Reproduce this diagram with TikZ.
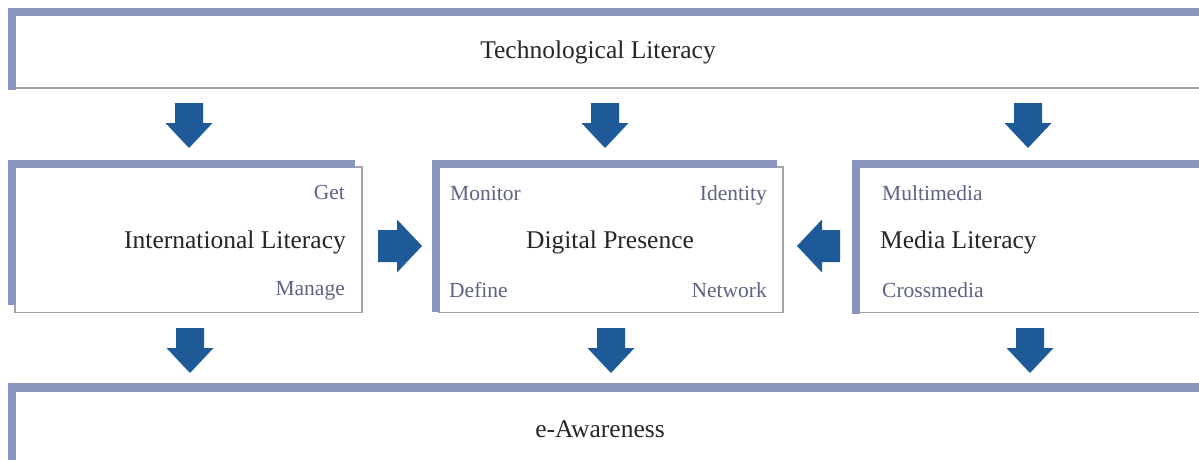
\documentclass[tikz,border=0pt]{standalone}
\usepackage{fontspec}
\setmainfont{Liberation Serif}
\definecolor{bandc}{HTML}{8A95BD}
\definecolor{thinc}{HTML}{A2A3AB}
\definecolor{arrowc}{HTML}{1E5A97}
\definecolor{maintxt}{HTML}{262626}
\definecolor{smalltxt}{HTML}{5C6384}
\tikzset{
  thinline/.style={draw=thinc, line width=1.6pt},
  band/.style={fill=bandc},
  maintext/.style={inner sep=0pt, text=maintxt, font=\fontsize{25.5}{30}\selectfont},
  smalltext/.style={inner sep=0pt, text=smalltxt, font=\fontsize{21.5}{26}\selectfont},
  downarr/.pic={\fill[arrowc] (-14,0) -- (14,0) -- (14,20) -- (23.5,20) -- (0,45) -- (-23.5,20) -- (-14,20) -- cycle;},
  rightarr/.pic={\fill[arrowc] (0,-16) -- (19,-16) -- (19,-26.5) -- (44,0) -- (19,26.5) -- (19,16) -- (0,16) -- cycle;},
  leftarr/.pic={\fill[arrowc] (0,-16) -- (-18,-16) -- (-18,-26.5) -- (-43,0) -- (-18,26.5) -- (-18,16) -- (0,16) -- cycle;}
}
\begin{document}
\begin{tikzpicture}[x=1pt,y=-1pt]
\useasboundingbox (0,0) rectangle (1199,459);
\clip (0,0) rectangle (1199,459);
\fill[white] (0,0) rectangle (1199,459);
% top box
\draw[thinline] (15,15) -- (1210,15);
\draw[thinline] (15,88) -- (1210,88);
\fill[band] (8,8) rectangle (1210,15.5);
\fill[band] (8,8) rectangle (15.5,90);
% left box
\draw[thinline] (15,167) rectangle (362,312.5);
\fill[band] (8,160) rectangle (355,167.5);
\fill[band] (8,160) rectangle (15.5,305);
% middle box
\draw[thinline] (439,167) rectangle (783,312.5);
\fill[band] (432,160) rectangle (777,167.5);
\fill[band] (432,160) rectangle (439.5,312);
% right box
\draw[thinline] (859,167) rectangle (1210,312.5);
\fill[band] (852,160) rectangle (1210,167.5);
\fill[band] (852,160) rectangle (859.5,314);
% bottom box
\fill[band] (8,383) rectangle (1210,392);
\fill[band] (8,383) rectangle (15.5,470);
% arrows
\pic at (189,103) {downarr};
\pic at (605,103) {downarr};
\pic at (1028,103) {downarr};
\pic at (190,328) {downarr};
\pic at (611,328) {downarr};
\pic at (1030,328) {downarr};
\pic at (378,246) {rightarr};
\pic at (840,246) {leftarr};
% texts
\node[maintext, anchor=base] (tech) at (598,58) {Technological Literacy};
\node[maintext, anchor=base] (eaw) at (600,437) {e-Awareness};
\node[maintext, anchor=base east] (intl) at (346,248) {International Literacy};
\node[maintext, anchor=base] (dig) at (610,248) {Digital Presence};
\node[maintext, anchor=base west] (media) at (880,248) {Media Literacy};
\node[smalltext, anchor=base east] (get) at (345,199) {Get};
\node[smalltext, anchor=base east] (manage) at (345,295) {Manage};
\node[smalltext, anchor=base west] (monitor) at (450,200) {Monitor};
\node[smalltext, anchor=base east] (identity) at (767,200) {Identity};
\node[smalltext, anchor=base west] (define) at (449,297) {Define};
\node[smalltext, anchor=base east] (network) at (767,297) {Network};
\node[smalltext, anchor=base west] (multi) at (882,200) {Multimedia};
\node[smalltext, anchor=base west] (cross) at (882,297) {Crossmedia};
\end{tikzpicture}
\end{document}
